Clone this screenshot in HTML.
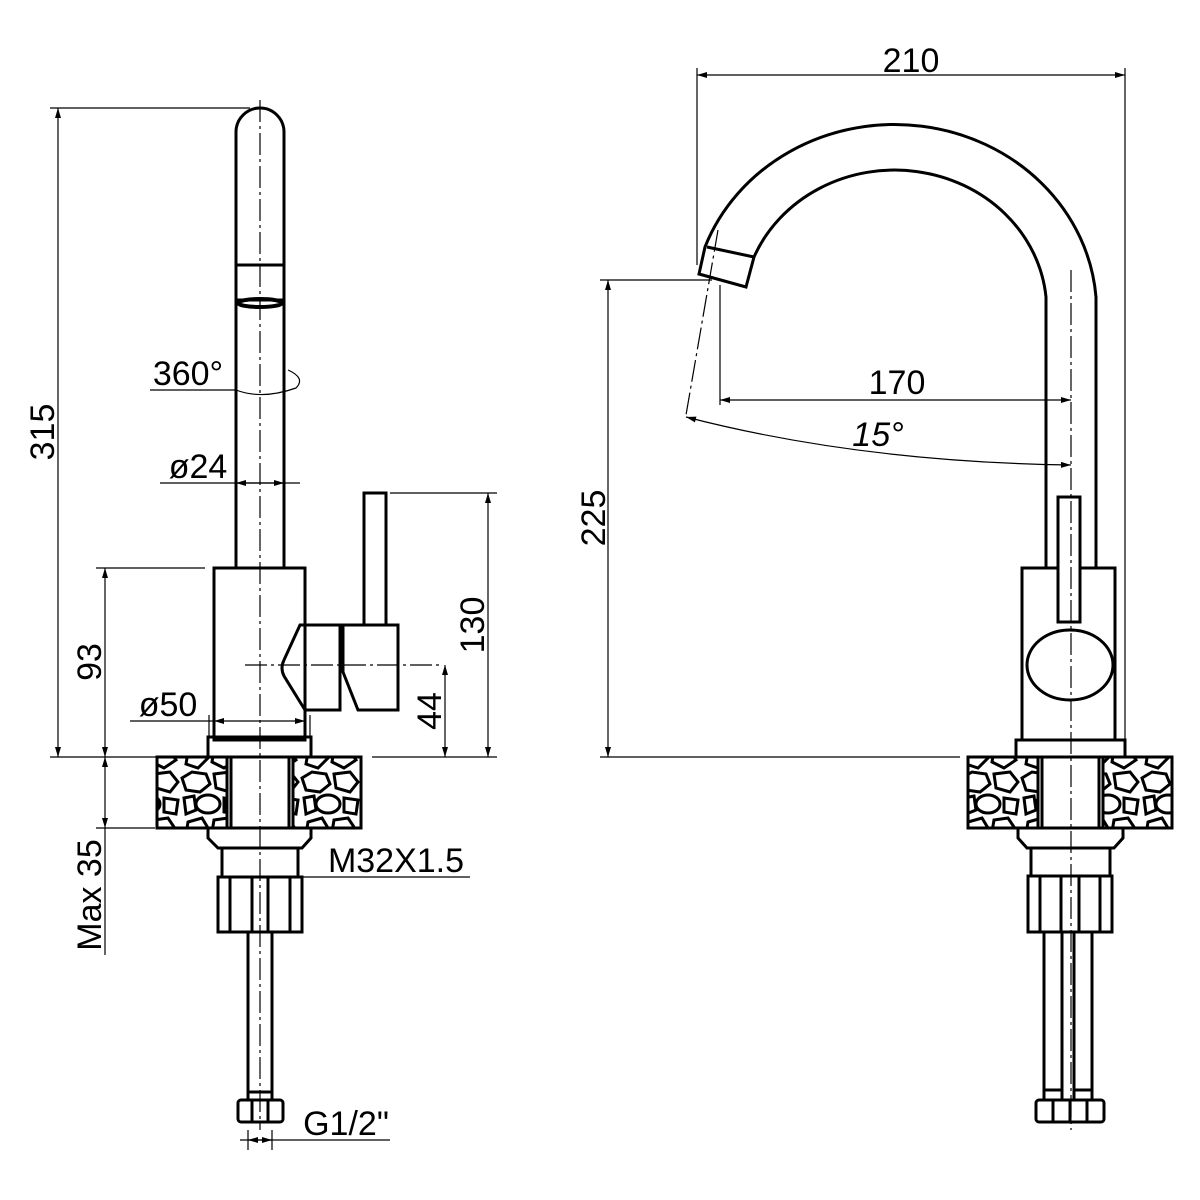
<!DOCTYPE html>
<html><head><style>
html,body{margin:0;padding:0;background:#fff;}
svg{display:block;}
text{font-family:"Liberation Sans",sans-serif;fill:#000;}
</style></head><body>
<svg width="1200" height="1200" viewBox="0 0 1200 1200" xmlns="http://www.w3.org/2000/svg">
<defs>
<marker id="a" viewBox="0 0 10 6" refX="10" refY="3" markerWidth="16" markerHeight="6" orient="auto-start-reverse" markerUnits="userSpaceOnUse"><path d="M0,0 L10,3 L0,6 z" fill="#000"/></marker>
<pattern id="stone" width="60" height="70" patternUnits="userSpaceOnUse">
<rect width="60" height="70" fill="#fff"/>
<g fill="none" stroke="#000" stroke-width="3">
<path d="M2,8 L12,2 L26,4 L30,14 L20,22 L6,20 Z"/>
<path d="M34,4 L50,2 L58,12 L50,22 L36,18 Z"/>
<ellipse cx="28" cy="34" rx="12" ry="9"/>
<path d="M4,28 L14,26 L16,40 L6,44 Z"/>
<path d="M44,28 L58,30 L56,44 L44,42 Z"/>
<path d="M8,52 L22,48 L28,58 L18,68 L6,64 Z"/>
<path d="M34,50 L48,48 L56,60 L44,68 L32,62 Z"/>
</g>
</pattern>
</defs>
<g fill="none" stroke="#000" stroke-width="3">
<!-- LEFT VIEW -->
<path d="M236,568 L236,132 A24,24 0 0 1 284,132 L284,568"/>
<line x1="236" y1="265" x2="284" y2="265"/>
<line x1="236" y1="300" x2="284" y2="300"/>
<ellipse cx="260" cy="303" rx="22" ry="4" stroke-width="4"/>
<rect x="214" y="568" width="91" height="172"/>
<rect x="364" y="493" width="22" height="132"/>
<path d="M305,625 L300,625 L284,660 Q280,668 284,676 L305,710"/>
<path d="M305,625 L340,625 L340,710 L305,710"/>
<path d="M343,625 L398,625 L398,710 L358,710 L343,672 Z"/>
<rect x="208" y="737" width="103" height="20"/>
<rect x="157" y="757" width="204" height="71" fill="url(#stone)"/>
<rect x="227" y="757" width="66" height="71" fill="#fff"/>
<line x1="231" y1="757" x2="231" y2="828"/>
<line x1="289" y1="757" x2="289" y2="828"/>
<path d="M208,828 L311,828 L311,838 L302,848 L218,848 L208,838 Z"/>
<rect x="222" y="848" width="76" height="29"/>
<rect x="218" y="877" width="84" height="55"/>
<line x1="230" y1="877" x2="230" y2="932"/><line x1="290" y1="877" x2="290" y2="932"/>
<line x1="252" y1="877" x2="252" y2="932"/><line x1="268" y1="877" x2="268" y2="932"/>
<rect x="248" y="932" width="24" height="168"/>
<line x1="248" y1="1092" x2="272" y2="1092"/>
<rect x="238" y="1100" width="45" height="22" rx="3"/>
<line x1="252" y1="1100" x2="252" y2="1122"/><line x1="268" y1="1100" x2="268" y2="1122"/>
<!-- RIGHT VIEW -->
<path d="M1096,568 L1096,297 A202,187 0 0 0 705,247 L699,274 L746,287 L754,257 A152,140 0 0 1 1046,297 L1046,568"/>
<line x1="707" y1="247" x2="754" y2="257"/>
<rect x="1022" y="568" width="93" height="172"/>
<rect x="1058" y="497" width="22" height="125" fill="#fff"/>
<ellipse cx="1070" cy="665" rx="43" ry="35" fill="#fff"/>
<rect x="1016" y="740" width="109" height="17"/>
<rect x="968" y="757" width="204" height="71" fill="url(#stone)"/>
<rect x="1038" y="757" width="65" height="71" fill="#fff"/>
<line x1="1042" y1="757" x2="1042" y2="828"/><line x1="1099" y1="757" x2="1099" y2="828"/>
<path d="M1018,828 L1123,828 L1123,838 L1114,848 L1027,848 L1018,838 Z"/>
<rect x="1031" y="848" width="79" height="28"/>
<rect x="1028" y="876" width="84" height="56"/>
<line x1="1040" y1="876" x2="1040" y2="932"/><line x1="1100" y1="876" x2="1100" y2="932"/>
<rect x="1061" y="876" width="18" height="56"/>
<rect x="1044" y="932" width="18" height="168"/><rect x="1074" y="932" width="18" height="168"/>
<line x1="1044" y1="1090" x2="1062" y2="1090"/><line x1="1074" y1="1090" x2="1092" y2="1090"/>
<rect x="1036" y="1100" width="68" height="22" rx="3"/>
<line x1="1053" y1="1100" x2="1053" y2="1122"/><line x1="1070" y1="1100" x2="1070" y2="1122"/><line x1="1087" y1="1100" x2="1087" y2="1122"/>
</g>
<!-- centerlines -->
<g stroke="#000" stroke-width="1.2" stroke-dasharray="22,4,3,4" fill="none">
<line x1="260" y1="100" x2="260" y2="1130"/>
<line x1="245" y1="665" x2="440" y2="665"/>
<line x1="1071" y1="270" x2="1071" y2="1130"/>
<line x1="718" y1="230" x2="686" y2="415"/>
</g>
<!-- dimension lines -->
<g stroke="#000" stroke-width="1.2" fill="none">
<line x1="50" y1="108" x2="250" y2="108"/>
<line x1="58" y1="108" x2="58" y2="757" marker-start="url(#a)" marker-end="url(#a)"/>
<line x1="50" y1="757" x2="200" y2="757"/>
<line x1="96" y1="568" x2="205" y2="568"/>
<line x1="105" y1="568" x2="105" y2="757" marker-start="url(#a)" marker-end="url(#a)"/>
<line x1="96" y1="828" x2="155" y2="828"/>
<line x1="105" y1="757" x2="105" y2="828" marker-start="url(#a)" marker-end="url(#a)"/>
<line x1="105" y1="828" x2="105" y2="955"/>
<line x1="150" y1="390" x2="236" y2="390"/>
<path d="M236,390 Q262,400 296,388 Q306,378 288,370"/>
<line x1="160" y1="483" x2="300" y2="483"/>
<line x1="236" y1="483" x2="284" y2="483" marker-start="url(#a)" marker-end="url(#a)"/>
<line x1="130" y1="721" x2="214" y2="721"/>
<line x1="214" y1="721" x2="305" y2="721" marker-start="url(#a)" marker-end="url(#a)"/>
<line x1="209" y1="715" x2="209" y2="737"/><line x1="310" y1="715" x2="310" y2="737"/>
<line x1="390" y1="493" x2="497" y2="493"/>
<line x1="488" y1="493" x2="488" y2="757" marker-start="url(#a)" marker-end="url(#a)"/>
<line x1="445" y1="665" x2="445" y2="757" marker-start="url(#a)" marker-end="url(#a)"/>
<line x1="372" y1="757" x2="497" y2="757"/>
<line x1="222" y1="877" x2="470" y2="877"/>
<line x1="240" y1="1140" x2="390" y2="1140"/>
<line x1="248" y1="1130" x2="248" y2="1150"/><line x1="272" y1="1130" x2="272" y2="1150"/>
<line x1="248" y1="1140" x2="272" y2="1140" marker-start="url(#a)" marker-end="url(#a)"/>
<!-- right -->
<line x1="697" y1="68" x2="697" y2="265"/>
<line x1="1125" y1="68" x2="1125" y2="740"/>
<line x1="697" y1="75" x2="1125" y2="75" marker-start="url(#a)" marker-end="url(#a)"/>
<line x1="600" y1="280" x2="712" y2="280"/>
<line x1="600" y1="757" x2="960" y2="757"/>
<line x1="608" y1="280" x2="608" y2="757" marker-start="url(#a)" marker-end="url(#a)"/>
<line x1="720" y1="285" x2="720" y2="405"/>
<line x1="720" y1="400" x2="1071" y2="400" marker-start="url(#a)" marker-end="url(#a)"/>
<path d="M686,417 Q860,462 1071,465" marker-start="url(#a)" marker-end="url(#a)"/>
</g>
<g font-size="34">
<text transform="translate(54,432) rotate(-90)" text-anchor="middle">315</text>
<text transform="translate(101,662) rotate(-90)" text-anchor="middle">93</text>
<text transform="translate(101,895) rotate(-90)" text-anchor="middle">Max 35</text>
<text x="188" y="385" text-anchor="middle">360°</text>
<text x="198" y="478" text-anchor="middle">ø24</text>
<text x="168" y="716" text-anchor="middle">ø50</text>
<text transform="translate(484,625) rotate(-90)" text-anchor="middle">130</text>
<text transform="translate(441,711) rotate(-90)" text-anchor="middle">44</text>
<text x="396" y="872" text-anchor="middle">M32X1.5</text>
<text x="346" y="1135" text-anchor="middle">G1/2"</text>
<text x="911" y="72" text-anchor="middle">210</text>
<text transform="translate(605,518) rotate(-90)" text-anchor="middle">225</text>
<text x="897" y="394" text-anchor="middle">170</text>
<text x="878" y="446" text-anchor="middle" font-style="italic">15°</text>
</g>
</svg>
</body></html>
